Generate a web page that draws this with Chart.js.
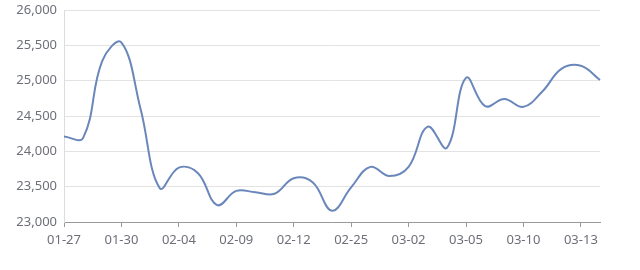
<!DOCTYPE html>
<html>
<head>
<meta charset="utf-8">
<script src="https://cdn.jsdelivr.net/npm/chart.js@4.4.1/dist/chart.umd.min.js"></script>
<style>
  html, body { margin: 0; padding: 0; background: #fff; }
  #wrap { width: 640px; height: 270px; position: relative; }
</style>
</head>
<body>
<div id="wrap"><canvas id="priceChart"></canvas></div>
<script>
const dates = [
  "01-27", "01-28", "01-29", "01-30", "02-02", "02-03", "02-04", "02-05", "02-06", "02-09",
  "02-10", "02-11", "02-12", "02-13", "02-16", "02-25", "02-26", "02-27", "03-02", "03-03",
  "03-04", "03-05", "03-06", "03-09", "03-10", "03-11", "03-12", "03-13", "03-16"
];
const prices = [
  24210, 24190, 25280, 25540, 24600, 23480, 23770, 23690, 23240, 23440,
  23420, 23400, 23620, 23560, 23160, 23490, 23780, 23650, 23780, 24350,
  24050, 25040, 24640, 24740, 24630, 24850, 25170, 25210, 25010
];
const yTicks = [23000, 23500, 24000, 24500, 25000, 25500, 26000];
const labelEvery = 3;

const axisFont = { family: "'Noto Sans', 'DejaVu Sans', sans-serif", size: 13 };

const ctx = document.getElementById("priceChart").getContext("2d");
new Chart(ctx, {
  type: "line",
  data: {
    labels: dates,
    datasets: [{
      label: "price",
      data: prices,
      borderColor: "#6a87bb",
      borderWidth: 2,
      pointRadius: 0,
      tension: 0.4,
      fill: false
    }]
  },
  options: {
    responsive: true,
    maintainAspectRatio: false,
    animation: false,
    layout: { padding: { top: 10, right: 40, left: 0, bottom: 0 } },
    plugins: {
      legend: { display: false },
      tooltip: { enabled: false }
    },
    scales: {
      x: {
        offset: false,
        border: { color: "#999", width: 1 },
        grid: {
          drawOnChartArea: false,
          tickLength: 5,
          color: c => (c.index % labelEvery === 0 ? "#999" : "transparent")
        },
        ticks: {
          autoSkip: false,
          maxRotation: 0,
          color: "#6e7079",
          font: axisFont,
          padding: 5,
          callback: (v, i) => (i % labelEvery === 0 ? dates[i] : "")
        },
        afterFit: s => { s.height = 48; }
      },
      y: {
        min: yTicks[0],
        max: yTicks[yTicks.length - 1],
        border: { color: "#ddd", width: 1 },
        grid: { color: "#e3e3e3", drawTicks: false },
        afterBuildTicks: s => { s.ticks = yTicks.map(v => ({ value: v })); },
        ticks: {
          color: "#6e7079",
          font: axisFont,
          padding: 7,
          callback: v => v.toLocaleString("en-US")
        },
        afterFit: s => { s.width = 64; s.paddingTop = 0; s.paddingBottom = 0; }
      }
    }
  }
});
</script>
</body>
</html>
